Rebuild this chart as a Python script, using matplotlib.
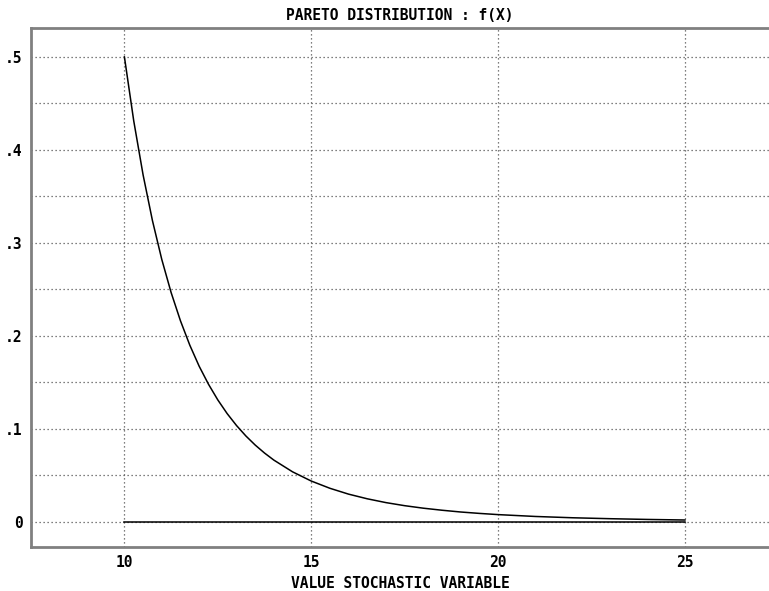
from matplotlib import pyplot as plt
import numpy as np

# values
x = [10, 10.25, 10.5, 10.75, 11, 11.25, 11.5, 11.75, 12, 12.25, 12.5, 12.75,
     13, 13.25, 13.5, 13.75, 14, 14.5, 15, 15.5, 16, 16.5, 17, 17.5, 18,
     18.5, 19, 19.5, 20, 21, 22, 23, 24, 25]
fx = [0.5, 0.4311, 0.3731, 0.3240, 0.2822, 0.2466, 0.2162, 0.1900, 0.1674,
      0.1480, 0.1311, 0.1164, 0.1036, 0.0924, 0.0826, 0.0740, 0.0664, 0.0538,
      0.0439, 0.0361, 0.0298, 0.0248, 0.0207, 0.0174, 0.0147, 0.0125, 0.0106,
      0.0091, 0.0078, 0.0058, 0.0044, 0.0034, 0.0026, 0.0020]
xticks = [10, 15, 20, 25]
yticks = [0, 0.1, 0.2, 0.3, 0.4, 0.5]
ylabels = ["0", ".1", ".2", ".3", ".4", ".5"]

font = {"family": "DejaVu Sans Mono", "weight": "bold", "size": 10.5,
        "stretch": "condensed"}

fig = plt.figure(figsize=(7.69, 5.91), dpi=100)
ax = fig.add_axes([0.0403, 0.0745, 0.9597, 0.878])

# grid
for v in np.arange(0, 0.55, 0.05):
    ax.axhline(v, color="#555555", lw=0.9, ls=(0, (1, 2.2)), zorder=1)
for v in xticks:
    ax.axvline(v, color="#555555", lw=0.9, ls=(0, (1, 2.2)), zorder=1)

ax.plot(x, fx, color="black", lw=1.1, zorder=3)
ax.plot([x[0], x[-1]], [0, 0], color="black", lw=1.1, zorder=3)

ax.set_xlim(7.5, 27.25)
ax.set_ylim(-0.027, 0.531)
ax.set_xticks(xticks)
ax.set_xticklabels([str(t) for t in xticks], fontdict=font)
ax.set_yticks(yticks)
ax.set_yticklabels(ylabels, fontdict=font)
ax.tick_params(length=0, pad=6)

for s in ["left", "top", "bottom"]:
    ax.spines[s].set_color("#808080")
    ax.spines[s].set_linewidth(2)
ax.spines["right"].set_visible(False)

ax.set_title("PARETO DISTRIBUTION : f(X)", fontdict=font, pad=6)
ax.set_xlabel("VALUE STOCHASTIC VARIABLE", fontdict=font, labelpad=4)

fig.savefig("out.png", dpi=100)
